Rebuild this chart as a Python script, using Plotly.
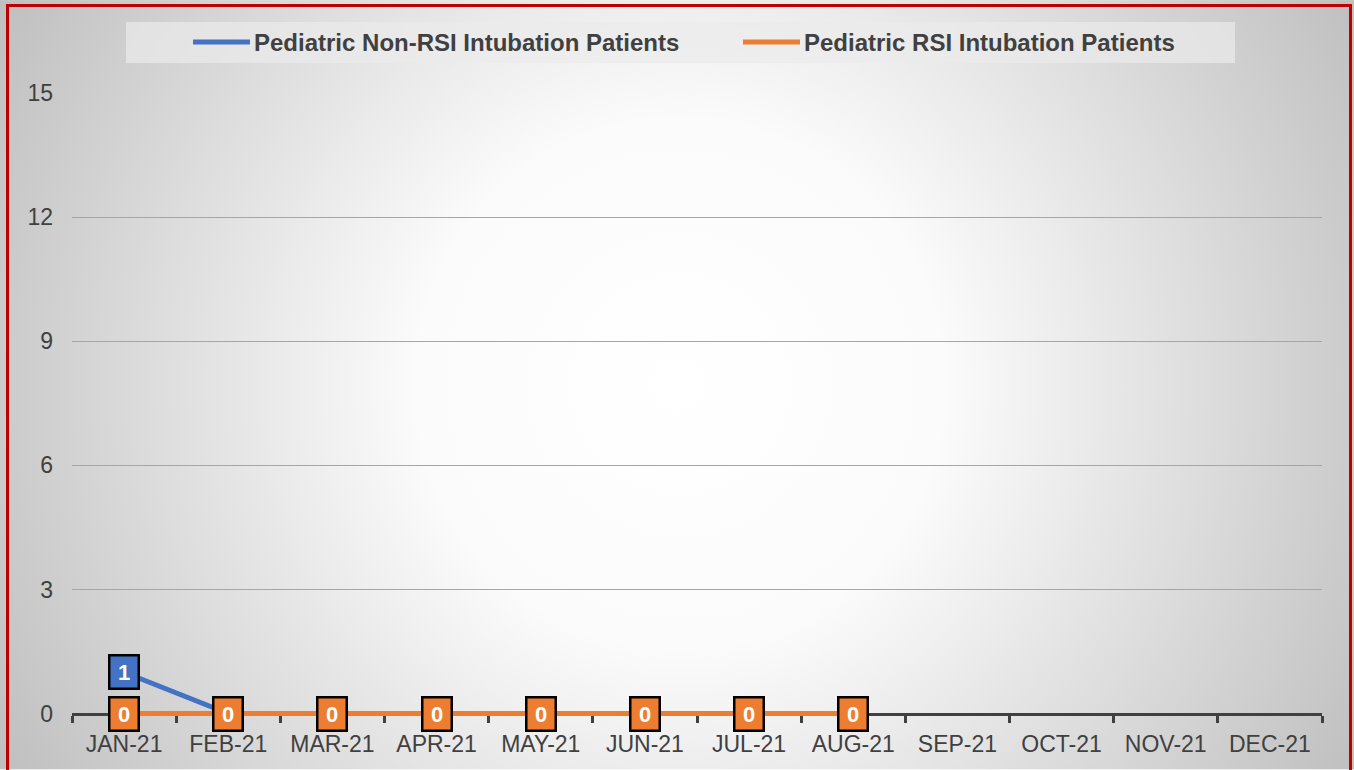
import base64

import plotly.graph_objects as go

MONTHS = ["JAN-21", "FEB-21", "MAR-21", "APR-21", "MAY-21", "JUN-21",
          "JUL-21", "AUG-21", "SEP-21", "OCT-21", "NOV-21", "DEC-21"]
NON_RSI = [1, 0, 0, 0, 0, 0, 0, 0]
RSI = [0, 0, 0, 0, 0, 0, 0, 0]
NON_RSI_NAME = "Pediatric Non-RSI Intubation Patients"
RSI_NAME = "Pediatric RSI Intubation Patients"
Y_TICKS = [0, 3, 6, 9, 12, 15]

BLUE = "#4472C4"
ORANGE = "#ED7D31"
TEXT = "#404040"
FONT = "Liberation Sans, Arial, sans-serif"

W, H = 1354, 770
Y_MIN, Y_MAX = -0.3, 15          # a little room below 0 so the zero lines aren't clipped
UNIT = 621 / 15                  # px per y unit
L, R, T = 72, 32, 93
B = H - T - UNIT * (Y_MAX - Y_MIN)
PW, PH = W - L - R, H - T - B
ZERO_PX = 714


def px(x):
    return (x - L) / PW


def py(y):
    return (H - B - y) / PH


svg = f"""<svg xmlns='http://www.w3.org/2000/svg' width='{W}' height='{H}'>
<defs><radialGradient id='g' gradientUnits='userSpaceOnUse' cx='680' cy='385' r='800'>
<stop offset='0' stop-color='#ffffff'/><stop offset='0.33' stop-color='#fbfbfb'/>
<stop offset='1' stop-color='#bdbdbd'/></radialGradient></defs>
<rect width='{W}' height='{H}' fill='url(#g)'/></svg>"""
bg_uri = "data:image/svg+xml;base64," + base64.b64encode(svg.encode()).decode()

fig = go.Figure()

for name, vals, color in [(NON_RSI_NAME, NON_RSI, BLUE), (RSI_NAME, RSI, ORANGE)]:
    fig.add_trace(go.Scatter(
        x=MONTHS[:len(vals)], y=vals, mode="lines", name=name,
        line=dict(color=color, width=5), showlegend=False, cliponaxis=False,
    ))

# data labels
for vals, color in [(NON_RSI, BLUE), (RSI, ORANGE)]:
    for m, v in zip(MONTHS, vals):
        fig.add_annotation(
            x=m, y=v, text=f"<b>{v}</b>", showarrow=False,
            font=dict(family=FONT, size=22, color="white"),
            bgcolor=color, bordercolor="black", borderwidth=2.5, borderpad=0,
            width=27, height=31,
        )

# legend (manual, Excel style)
fig.add_shape(type="rect", xref="paper", yref="paper",
              x0=px(126), x1=px(1235), y0=py(63), y1=py(22),
              fillcolor="rgba(235,235,235,0.7)", line_width=0, layer="below")
for x0, x1, color, name in [(193, 250, BLUE, NON_RSI_NAME), (743, 800, ORANGE, RSI_NAME)]:
    fig.add_shape(type="line", xref="paper", yref="paper",
                  x0=px(x0), x1=px(x1), y0=py(42), y1=py(42),
                  line=dict(color=color, width=5))
    fig.add_annotation(xref="paper", yref="paper", x=px(x1 + 2), y=py(42),
                       xanchor="left", yanchor="middle", showarrow=False,
                       text=f"<b>{name}</b>",
                       font=dict(family=FONT, size=24, color=TEXT))

# red frame
fig.add_shape(type="rect", xref="paper", yref="paper",
              x0=px(7.5), x1=px(1350.5), y0=py(780), y1=py(5.5),
              line=dict(color="#C00000", width=3))

fig.update_layout(
    width=W, height=H,
    margin=dict(l=L, r=R, t=T, b=B, autoexpand=False),
    paper_bgcolor="rgba(0,0,0,0)", plot_bgcolor="rgba(0,0,0,0)",
    font=dict(family=FONT, size=23, color=TEXT),
    showlegend=False,
    images=[dict(source=bg_uri, xref="paper", yref="paper",
                 x=px(0), y=py(0), sizex=W / PW, sizey=H / PH,
                 xanchor="left", yanchor="top", sizing="stretch", layer="below")],
)
fig.update_xaxes(
    type="category", categoryorder="array", categoryarray=MONTHS,
    range=[-0.5, len(MONTHS) - 0.5], layer="below traces",
    anchor="free", position=py(ZERO_PX),
    showline=True, linecolor=TEXT, linewidth=3,
    ticks="outside", tickson="boundaries", ticklen=7, tickwidth=3, tickcolor=TEXT,
    showgrid=False, tickfont=dict(size=23, color=TEXT), ticklabelstandoff=9,
)
fig.update_yaxes(
    range=[Y_MIN, Y_MAX], tickvals=Y_TICKS, showline=False, zeroline=False,
    showgrid=True, gridcolor="#a6a6a6", gridwidth=1.3, layer="below traces",
    tickfont=dict(size=23, color=TEXT), ticklabelstandoff=18,
)

fig.write_html("out.html", config={"displayModeBar": False},
               post_script="document.body.style.margin='0';document.body.style.overflow='hidden';")
